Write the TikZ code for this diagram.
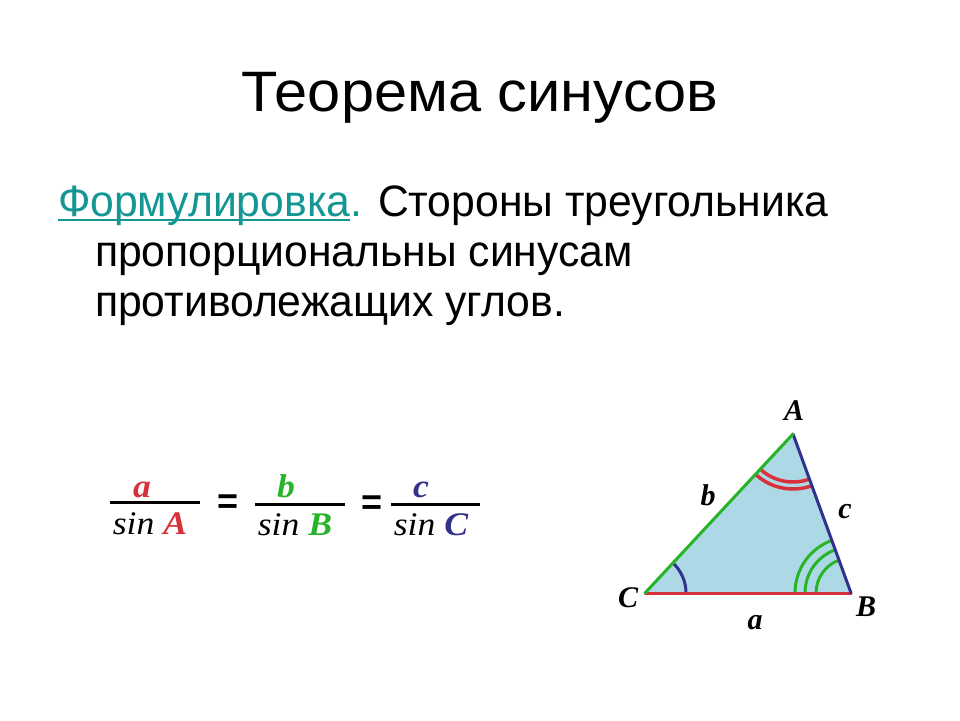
\documentclass[tikz,border=0pt]{standalone}
\usepackage{fontspec}
\setmainfont{Liberation Sans}
\newfontfamily\serifit{Liberation Serif}
\definecolor{cred}{RGB}{215,50,60}
\definecolor{cgreen}{RGB}{40,180,40}
\definecolor{cnavy}{RGB}{50,50,140}
\definecolor{cteal}{RGB}{20,150,148}
\definecolor{cfill}{RGB}{173,216,230}
\begin{document}
\begin{tikzpicture}[x=1pt,y=1pt,
  txt/.style={inner sep=0pt,outer sep=0pt,anchor=base west,xscale=0.97,font=\fontsize{44}{50}\selectfont},
  frm/.style={inner sep=0pt,outer sep=0pt,anchor=base,font=\fontsize{33}{36}\selectfont\serifit\itshape,xscale=1.08},
  lbl/.style={inner sep=0pt,font=\fontsize{30}{32}\selectfont\serifit\bfseries\itshape},
  eqs/.style={inner sep=0pt,font=\fontsize{36}{38}\selectfont\bfseries},
  fline/.style={line width=3pt},
  side/.style={line width=3pt,line cap=round},
  anglemark/.style={line width=3pt},
  redmark/.style={line width=3.5pt}]
\useasboundingbox (0,0) rectangle (960,720);
% title
\node[inner sep=0pt,anchor=base,xscale=1.045,font=\fontsize{57}{60}\selectfont] (title) at (480,608) {Теорема синусов};
% body text
\node[txt,text=cteal] (f1) at (58,503) {Формулировка};
\draw[cteal,line width=1.8pt] ([yshift=-3pt]f1.base west) -- ([yshift=-3pt]f1.base east);
\node[txt] (f2) at (f1.base east) {{\color{cteal}.} Стороны треугольника};
\node[txt] (l2) at (95,453) {пропорциональны синусам};
\node[txt] (l3) at (95,403) {противолежащих углов.};
% formula
\coordinate (p1a) at (110,217); \coordinate (p1b) at (200,217);
\coordinate (p2a) at (255,215); \coordinate (p2b) at (345,215);
\coordinate (p3a) at (391,215); \coordinate (p3b) at (480,215);
\draw[fline] (p1a) -- (p1b);
\draw[fline] (p2a) -- (p2b);
\draw[fline] (p3a) -- (p3b);
\node[frm,text=cred] (na) at (142,222) {\bfseries a};
\node[frm,text=cgreen] (nb) at (286,222) {\bfseries b};
\node[frm,text=cnavy] (nc) at (421,222) {\bfseries c};
\node[frm] (da) at (150,185) {sin \textcolor{cred}{\bfseries A}};
\node[frm] (db) at (295,184) {sin \textcolor{cgreen}{\bfseries B}};
\node[frm] (dc) at (431,184) {sin \textcolor{cnavy}{\bfseries C}};
\node[eqs] (eq1) at (228,216) {=};
\node[eqs] (eq2) at (372,215) {=};
% triangle
\coordinate (C) at (645,127);
\coordinate (B) at (851,127);
\coordinate (A) at (793,286);
\fill[cfill] (C) -- (B) -- (A) -- cycle;
% angle marks
\draw[anglemark,cnavy] ([shift={(0:41)}]C) arc[start angle=0,end angle=47,radius=41];
\draw[redmark,cred] ([shift={(228:48)}]A) arc[start angle=228,end angle=290,radius=48];
\draw[redmark,cred] ([shift={(228:55)}]A) arc[start angle=228,end angle=290,radius=55];
\draw[anglemark,cgreen] ([shift={(110:35)}]B) arc[start angle=110,end angle=180,radius=35];
\draw[anglemark,cgreen] ([shift={(110:46)}]B) arc[start angle=110,end angle=180,radius=46];
\draw[anglemark,cgreen] ([shift={(110:56)}]B) arc[start angle=110,end angle=180,radius=56];
% sides
\draw[side,cred] (C) -- (B);
\draw[side,cnavy] (B) -- (A);
\draw[side,cgreen] (C) -- (A);
% labels
\node[lbl] (lA) at (794,309) {A};
\node[lbl] (lB) at (866,113) {B};
\node[lbl] (lC) at (628,122) {C};
\node[lbl] (la) at (755,97) {a};
\node[lbl] (lb) at (708,225) {b};
\node[lbl] (lc) at (845,208) {c};
\end{tikzpicture}
\end{document}
